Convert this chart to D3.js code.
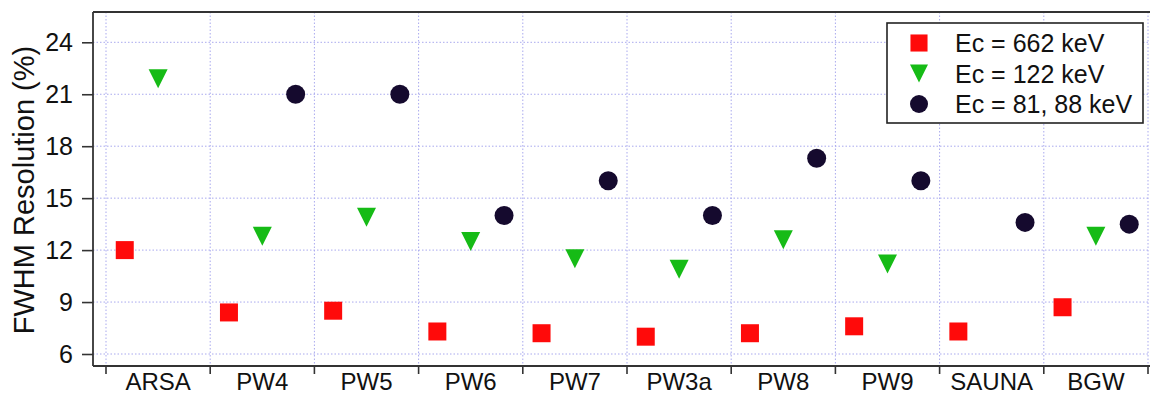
<!DOCTYPE html>
<html>
<head>
<meta charset="utf-8">
<script src="https://cdn.jsdelivr.net/npm/d3@7"></script>
<style>
  html, body { margin: 0; padding: 0; background: #fff; }
  svg { display: block; font-family: "Liberation Sans", Arial, sans-serif; }
</style>
</head>
<body>
<svg id="chart" width="1150" height="394"></svg>
<script>
// Detector resolution measurements per detector / configuration
const categories = ["ARSA", "PW4", "PW5", "PW6", "PW7", "PW3a", "PW8", "PW9", "SAUNA", "BGW"];
const ec662 = [12.0, 8.4, 8.5, 7.3, 7.2, 7.0, 7.2, 7.6, 7.3, 8.7];
const ec122 = [21.9, 12.8, 13.9, 12.5, 11.5, 10.9, 12.6, 11.2, null, 12.8];
const ec81 = [null, 21.0, 21.0, 14.0, 16.0, 14.0, 17.3, 16.0, 13.6, 13.5];
const seriesNames = ["Ec = 662 keV", "Ec = 122 keV", "Ec = 81, 88 keV"];
const yTicks = [6, 9, 12, 15, 18, 21, 24];
const yTitle = "FWHM Resolution (%)";

const svg = d3.select("#chart");

// Frame of the plot area
const frame = { left: 93, right: 1150, top: 12, bottom: 366 };

const x = d3.scaleBand().domain(categories).range([106, 1148]).paddingInner(0).paddingOuter(0);
const sub = d3.scalePoint().domain([0, 1, 2]).range([0, x.bandwidth()]).padding(0.5625);
const y = d3.scaleLinear().domain([6, 24]).range([354, 42.3]);

const gridColor = "#a9a9ee";
const grid = svg.append("g").attr("class", "grid")
  .attr("stroke", gridColor).attr("stroke-width", 1).attr("stroke-dasharray", "1.5,2");

const boundaries = categories.map(c => x(c)).concat([x.range()[1]]);
grid.selectAll("line.v").data(boundaries).join("line").attr("class", "v")
  .attr("x1", d => d).attr("x2", d => d).attr("y1", frame.top).attr("y2", frame.bottom);
grid.selectAll("line.h").data(yTicks).join("line").attr("class", "h")
  .attr("x1", frame.left).attr("x2", frame.right).attr("y1", d => y(d)).attr("y2", d => y(d));

// Y axis ticks and labels
const yAxis = d3.axisLeft(y).tickValues(yTicks).tickSize(11).tickPadding(9).tickFormat(d3.format("d"));
const gy = svg.append("g").attr("transform", `translate(${frame.left},0)`).call(yAxis);
gy.select(".domain").remove();
gy.selectAll(".tick line").attr("stroke", "#333").attr("stroke-width", 1.6);
gy.selectAll(".tick text").attr("font-size", 25).attr("fill", "#111")
  .attr("font-family", "Liberation Sans, Arial, sans-serif");

// X axis: category labels centered in each band, ticks at band boundaries
const xAxis = d3.axisBottom(x).tickSize(0).tickPadding(0);
const gx = svg.append("g").attr("transform", `translate(0,${frame.bottom})`).call(xAxis);
gx.select(".domain").remove();
gx.selectAll(".tick text").attr("font-size", 24).attr("fill", "#111")
  .attr("dy", null).attr("y", 23.5)
  .attr("font-family", "Liberation Sans, Arial, sans-serif");
svg.append("g").selectAll("line").data(boundaries).join("line")
  .attr("x1", d => d).attr("x2", d => d)
  .attr("y1", frame.bottom).attr("y2", frame.bottom + 8)
  .attr("stroke", "#333").attr("stroke-width", 1.6);

// Frame lines
const frameG = svg.append("g").attr("stroke", "#333").attr("stroke-width", 1.8).attr("fill", "none");
frameG.append("line").attr("x1", frame.left).attr("x2", frame.left).attr("y1", frame.top).attr("y2", frame.bottom);
frameG.append("line").attr("x1", frame.left).attr("x2", frame.right).attr("y1", frame.bottom).attr("y2", frame.bottom);
frameG.append("line").attr("x1", frame.left).attr("x2", frame.right).attr("y1", frame.top).attr("y2", frame.top);

// Y axis title
svg.append("text")
  .attr("transform", `translate(34,190) rotate(-90)`)
  .attr("text-anchor", "middle")
  .attr("font-size", 29)
  .attr("fill", "#111")
  .text(yTitle);

// Marker shapes
const triangleDown = {
  draw(context, size) {
    const w = Math.sqrt(size);
    context.moveTo(-w / 2, -w / 2);
    context.lineTo(w / 2, -w / 2);
    context.lineTo(0, w / 2);
    context.closePath();
  }
};
const markers = [
  { type: d3.symbolSquare, size: 18 * 18, color: "#ff0a0a", values: ec662 },
  { type: triangleDown, size: 19 * 19, color: "#16bb16", values: ec122 },
  { type: d3.symbolCircle, size: Math.PI * 9.5 * 9.5, color: "#150a2e", values: ec81 }
];

markers.forEach((m, si) => {
  const pts = categories.map((c, i) => ({ c, v: m.values[i] })).filter(d => d.v != null);
  svg.append("g").selectAll("path").data(pts).join("path")
    .attr("d", d3.symbol().type(m.type).size(m.size))
    .attr("transform", d => `translate(${x(d.c) + sub(si)},${y(d.v)})`)
    .attr("fill", m.color);
});

// Legend
const legend = svg.append("g").attr("transform", "translate(887,23)");
legend.append("rect").attr("width", 256).attr("height", 100)
  .attr("fill", "#fff").attr("stroke", "#222").attr("stroke-width", 1.6);
const rows = legend.selectAll("g.row").data(markers).join("g").attr("class", "row")
  .attr("transform", (d, i) => `translate(0,${20 + i * 30.5})`);
rows.append("path")
  .attr("d", d => d3.symbol().type(d.type).size(d.size * 0.9)())
  .attr("transform", "translate(32,0)")
  .attr("fill", d => d.color);
rows.append("text")
  .attr("x", 68).attr("y", 9)
  .attr("font-size", 25).attr("fill", "#111")
  .text((d, i) => seriesNames[i]);
</script>
</body>
</html>
